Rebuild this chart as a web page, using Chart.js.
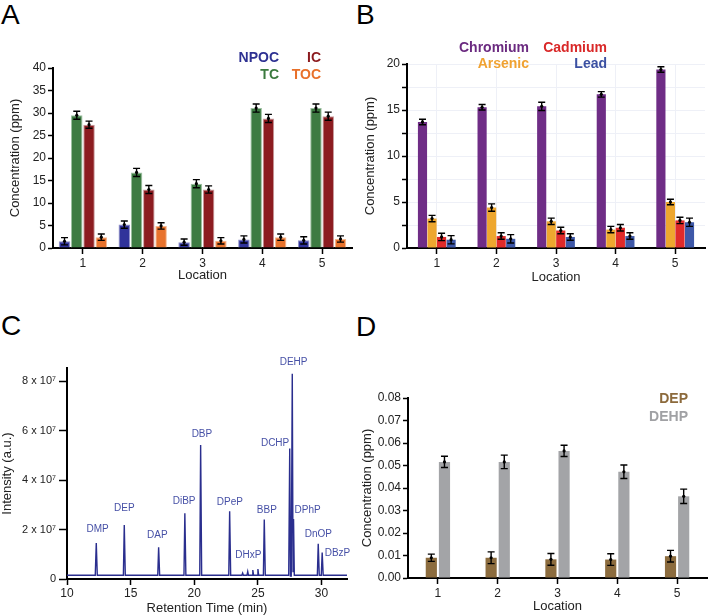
<!DOCTYPE html>
<html>
<head>
<meta charset="utf-8">
<script src="https://cdn.jsdelivr.net/npm/chart.js@4.4.1/dist/chart.umd.min.js"></script>
<style>
  body { margin: 0; background: #fff; }
  #wrap { position: relative; width: 709px; height: 616px; overflow: hidden; font-family: "Liberation Sans", Arial, sans-serif; }
  canvas { position: absolute; }
  .tag { position: absolute; font-size: 28px; line-height: 28px; color: #000; }
</style>
</head>
<body>
<div id="wrap">
  <div class="tag" style="left:1px;top:1px">A</div>
  <div class="tag" style="left:356px;top:1px">B</div>
  <div class="tag" style="left:1px;top:312px">C</div>
  <div class="tag" style="left:356px;top:313px">D</div>
  <canvas id="chartA" width="355" height="300" style="left:0;top:0"></canvas>
  <canvas id="chartB" width="354" height="300" style="left:355px;top:0"></canvas>
  <canvas id="chartC" width="355" height="316" style="left:0;top:300px"></canvas>
  <canvas id="chartD" width="354" height="316" style="left:355px;top:300px"></canvas>
</div>
<script>
// ---- data ----
const locations = ['1', '2', '3', '4', '5'];

// A: carbon (ppm)
const npoc = [1.5, 5.2, 1.3, 1.9, 1.7];
const npocErr = [0.8, 0.8, 0.7, 0.8, 0.8];
const tc = [29.5, 16.8, 14.3, 31.1, 31.1];
const tcErr = [0.9, 0.9, 0.9, 0.9, 0.9];
const ic = [27.4, 13.0, 13.0, 28.8, 29.3];
const icErr = [0.8, 0.9, 0.8, 0.9, 0.9];
const toc = [2.4, 4.9, 1.6, 2.4, 2.0];
const tocErr = [0.7, 0.7, 0.7, 0.7, 0.7];

// B: metals (ppm)
const chromium = [13.7, 15.3, 15.4, 16.7, 19.4];
const chromiumErr = [0.3, 0.3, 0.45, 0.3, 0.3];
const arsenic = [3.2, 4.4, 2.9, 2.0, 5.0];
const arsenicErr = [0.35, 0.4, 0.35, 0.35, 0.3];
const cadmium = [1.2, 1.3, 1.9, 2.2, 3.0];
const cadmiumErr = [0.4, 0.35, 0.35, 0.35, 0.35];
const lead = [0.9, 1.0, 1.2, 1.3, 2.8];
const leadErr = [0.45, 0.45, 0.35, 0.35, 0.45];

// C: chromatogram (min, counts)
const rtMin = [10, 12.22, 12.3, 12.38, 14.43, 14.5, 14.58, 17.13, 17.2, 17.28,
  19.19, 19.26, 19.34, 20.43, 20.5, 20.58, 22.71, 22.78, 22.86, 23.74, 23.8, 23.86,
  24.14, 24.2, 24.26, 24.54, 24.6, 24.66, 24.94, 25.0, 25.06, 25.43, 25.5, 25.58,
  27.42, 27.5, 27.56, 27.62, 27.7, 27.76, 27.8, 27.86, 27.94, 29.67, 29.74, 29.82,
  29.98, 30.05, 30.13, 32];
const intensity = [0.15e7, 0.15e7, 1.45e7, 0.15e7, 0.15e7, 2.18e7, 0.15e7, 0.15e7, 1.28e7, 0.15e7,
  0.15e7, 2.66e7, 0.15e7, 0.15e7, 5.42e7, 0.15e7, 0.15e7, 2.74e7, 0.15e7, 0.15e7, 0.24e7, 0.15e7,
  0.15e7, 0.3e7, 0.15e7, 0.15e7, 0.36e7, 0.15e7, 0.15e7, 0.4e7, 0.15e7, 0.15e7, 2.4e7, 0.15e7,
  0.15e7, 5.28e7, 0.12e7, 0.12e7, 8.3e7, 0.3e7, 2.43e7, 0.15e7, 0.15e7, 0.15e7, 1.42e7, 0.15e7,
  0.15e7, 1.07e7, 0.15e7, 0.15e7];
const peakNames = ['DMP', 'DEP', 'DAP', 'DiBP', 'DBP', 'DPeP', 'DHxP', 'BBP', 'DCHP', 'DEHP', 'DPhP', 'DnOP', 'DBzP'];
const rtTicks = [10, 15, 20, 25, 30];
const intensityTicks = [0, 2e7, 4e7, 6e7, 8e7];

// D: phthalates (ppm)
const dep = [0.009, 0.009, 0.0083, 0.0082, 0.0097];
const depErr = [0.0016, 0.0026, 0.0026, 0.0026, 0.0026];
const dehp = [0.0516, 0.0516, 0.0565, 0.0472, 0.0363];
const dehpErr = [0.0025, 0.003, 0.0025, 0.003, 0.0032];

// ---- helpers ----
const FONT = '"Liberation Sans", Arial, sans-serif';
Chart.defaults.font.family = FONT;
Chart.defaults.color = '#222';

const errorBars = {
  id: 'errorBars',
  afterDatasetsDraw(chart) {
    const ctx = chart.ctx;
    const y = chart.scales.y;
    ctx.save();
    ctx.strokeStyle = '#000';
    ctx.fillStyle = '#000';
    ctx.lineWidth = 1.4;
    chart.data.datasets.forEach((ds, i) => {
      if (!ds.errors) return;
      chart.getDatasetMeta(i).data.forEach((bar, j) => {
        const v = ds.data[j], e = ds.errors[j];
        const t = y.getPixelForValue(v + e), b = y.getPixelForValue(v - e);
        const x = bar.x;
        ctx.beginPath();
        ctx.moveTo(x, t); ctx.lineTo(x, b);
        ctx.moveTo(x - 3.5, t); ctx.lineTo(x + 3.5, t);
        ctx.moveTo(x - 3.5, b); ctx.lineTo(x + 3.5, b);
        ctx.stroke();
        ctx.beginPath();
        ctx.arc(x, y.getPixelForValue(v), 1.6, 0, Math.PI * 2);
        ctx.fill();
      });
    });
    ctx.restore();
  }
};

const textLabels = {
  id: 'textLabels',
  afterDraw(chart, args, opts) {
    const ctx = chart.ctx;
    ctx.save();
    (opts.items || []).forEach(it => {
      ctx.font = it.font;
      ctx.fillStyle = it.color;
      ctx.textAlign = it.align || 'right';
      ctx.textBaseline = 'middle';
      let x = it.x, y = it.y;
      if (it.data) {
        x = chart.scales.x.getPixelForValue(it.x);
        y = chart.scales.y.getPixelForValue(it.y);
      }
      ctx.fillText(it.text, x, y);
    });
    ctx.restore();
  }
};

function axisStyle(tickLength) {
  return {
    border: { color: '#000', width: 2 },
    grid: { drawOnChartArea: false, drawTicks: true, tickLength: tickLength, tickColor: '#000', tickWidth: 1.5, offset: false }
  };
}

function barChart(id, datasets, opts) {
  return new Chart(document.getElementById(id), {
    type: 'bar',
    data: { labels: locations, datasets: datasets },
    options: {
      responsive: false,
      animation: false,
      devicePixelRatio: 1,
      layout: { padding: { top: opts.top, right: opts.right, left: 0, bottom: 0 } },
      datasets: { bar: { categoryPercentage: opts.cat, barPercentage: opts.bar } },
      plugins: { legend: { display: false }, tooltip: { enabled: false }, textLabels: { items: opts.legend } },
      scales: {
        x: Object.assign(axisStyle(6), {
          ticks: { font: { size: 12 }, padding: 2, color: '#222' },
          title: { display: true, text: 'Location', font: { size: 13 }, color: '#222', padding: { top: 0, bottom: opts.xTitlePad } },
          afterFit: s => { s.height = opts.xH; }
        }, opts.xExtra || {}),
        y: Object.assign(axisStyle(5), {
          min: opts.yMin, max: opts.yMax,
          ticks: Object.assign({ font: { size: 12 }, padding: 2, color: '#222', stepSize: opts.step }, opts.yTicks || {}),
          title: { display: true, text: 'Concentration (ppm)', font: { size: 13 }, color: '#222', padding: { top: opts.yTitlePad, bottom: 0 } },
          afterFit: s => { s.width = opts.yW; }
        }, opts.yExtra || {})
      }
    },
    plugins: [errorBars, textLabels]
  });
}

const bold14 = 'bold 14px ' + FONT;

// ---- A ----
barChart('chartA', [
  { label: 'NPOC', data: npoc, errors: npocErr, backgroundColor: '#30339a', borderColor: '#8e90c8', borderWidth: 1 },
  { label: 'TC', data: tc, errors: tcErr, backgroundColor: '#3d7b42', borderColor: '#9cc0a0', borderWidth: 1 },
  { label: 'IC', data: ic, errors: icErr, backgroundColor: '#8c1c20', borderColor: '#c89a9c', borderWidth: 1 },
  { label: 'TOC', data: toc, errors: tocErr, backgroundColor: '#e8732d', borderColor: '#f4b890', borderWidth: 1 }
], {
  top: 68, right: 3, xH: 52, yW: 53, cat: 0.82, bar: 0.94, yMin: 0, yMax: 40, step: 5,
  xTitlePad: 17, yTitlePad: 8,
  legend: [
    { text: 'NPOC', color: '#2e3192', x: 279, y: 58, font: bold14 },
    { text: 'IC', color: '#8b1a1e', x: 321, y: 58, font: bold14 },
    { text: 'TC', color: '#3b7a3e', x: 279, y: 75, font: bold14 },
    { text: 'TOC', color: '#e8702a', x: 321, y: 75, font: bold14 }
  ]
});

// ---- B ----
barChart('chartB', [
  { label: 'Chromium', data: chromium, errors: chromiumErr, backgroundColor: '#6f2d86' },
  { label: 'Arsenic', data: arsenic, errors: arsenicErr, backgroundColor: '#eea72f' },
  { label: 'Cadmium', data: cadmium, errors: cadmiumErr, backgroundColor: '#e02a2a' },
  { label: 'Lead', data: lead, errors: leadErr, backgroundColor: '#3e58a8' }
], {
  top: 64, right: 4, xH: 52, yW: 52, cat: 0.64, bar: 0.96, yMin: 0, yMax: 20, step: 2.5,
  xTitlePad: 15, yTitlePad: 8,
  yTicks: { callback: v => (v % 5 === 0 ? v : '') },
  yExtra: { grid: { drawOnChartArea: true, color: '#eef0f7', drawTicks: true, tickLength: 5, tickColor: '#000', tickWidth: 1.5 } },
  xExtra: { grid: { drawOnChartArea: true, color: '#eef0f7', drawTicks: true, tickLength: 6, tickColor: '#000', tickWidth: 1.5, offset: false } },
  legend: [
    { text: 'Chromium', color: '#6b2a80', x: 174, y: 48, font: bold14 },
    { text: 'Cadmium', color: '#d92828', x: 252, y: 48, font: bold14 },
    { text: 'Arsenic', color: '#f0a232', x: 174, y: 64, font: bold14 },
    { text: 'Lead', color: '#3b50a2', x: 252, y: 64, font: bold14 }
  ]
});

// ---- D ----
barChart('chartD', [
  { label: 'DEP', data: dep, errors: depErr, backgroundColor: '#8c6c3e' },
  { label: 'DEHP', data: dehp, errors: dehpErr, backgroundColor: '#a3a4a7' }
], {
  top: 98, right: 2, xH: 38, yW: 53, cat: 0.44, bar: 0.85, yMin: 0, yMax: 0.08, step: 0.01,
  xTitlePad: 2, yTitlePad: 5,
  yTicks: { callback: v => v.toFixed(2) },
  legend: [
    { text: 'DEP', color: '#8c6a3c', x: 333, y: 99, font: bold14 },
    { text: 'DEHP', color: '#a0a1a4', x: 333, y: 117, font: bold14 }
  ]
});

// ---- C ----
const peakLabelPos = [[12.4, 2.0e7], [14.5, 2.88e7], [17.1, 1.78e7], [19.2, 3.14e7], [20.6, 5.86e7],
  [22.8, 3.11e7], [24.25, 0.95e7], [25.7, 2.76e7], [26.35, 5.47e7], [27.8, 8.77e7],
  [28.9, 2.76e7], [29.75, 1.8e7], [31.25, 1.04e7]];

new Chart(document.getElementById('chartC'), {
  type: 'line',
  data: {
    datasets: [{
      data: rtMin.map((t, i) => ({ x: t, y: intensity[i] })),
      borderColor: '#2a2e8e', borderWidth: 1.4, pointRadius: 0, tension: 0, fill: false
    }]
  },
  options: {
    responsive: false,
    animation: false,
    devicePixelRatio: 1,
    layout: { padding: { top: 68, right: 8, left: 0, bottom: 0 } },
    plugins: {
      legend: { display: false }, tooltip: { enabled: false },
      textLabels: {
        items: peakNames.map((n, i) => ({
          text: n, color: '#4650a6', x: peakLabelPos[i][0], y: peakLabelPos[i][1],
          data: true, align: 'center', font: '10px ' + FONT
        }))
      }
    },
    scales: {
      x: Object.assign(axisStyle(6), {
        type: 'linear', min: 10, max: 32,
        afterBuildTicks: s => { s.ticks = rtTicks.map(v => ({ value: v })); },
        ticks: { font: { size: 12 }, padding: 1, color: '#222' },
        title: { display: true, text: 'Retention Time (min)', font: { size: 13 }, color: '#222', padding: { top: 0, bottom: 0 } },
        afterFit: s => { s.height = 37; }
      }),
      y: Object.assign(axisStyle(8), {
        type: 'linear', min: 0, max: 8.53e7,
        afterBuildTicks: s => { s.ticks = intensityTicks.map(v => ({ value: v })); },
        ticks: { font: { size: 11 }, padding: 3, color: '#222', callback: v => (v === 0 ? '0' : (v / 1e7) + ' x 10\u2077') },
        title: { display: true, text: 'Intensity (a.u.)', font: { size: 13 }, color: '#222', padding: { top: 0, bottom: 0 } },
        afterFit: s => { s.width = 67; }
      })
    }
  },
  plugins: [textLabels]
});
</script>
</body>
</html>
